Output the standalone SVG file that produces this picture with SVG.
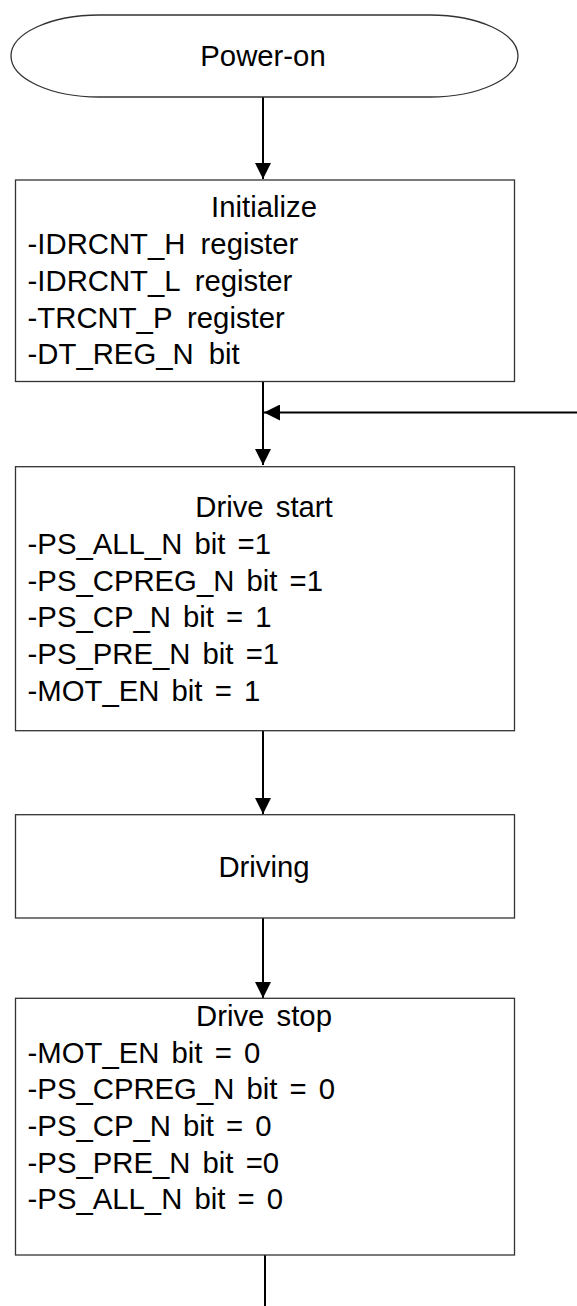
<svg xmlns="http://www.w3.org/2000/svg" width="577" height="1306" viewBox="0 0 577 1306">
  <style>
    .node { fill: #ffffff; stroke: #333333; stroke-width: 1.3; }
    .t { font-family: "Liberation Sans", Arial, sans-serif; font-size: 29.3px; fill: #000000; word-spacing: 4px; }
    .c { text-anchor: middle; }
    .conn { stroke: #000000; stroke-width: 2; fill: none; }
  </style>
  <defs>
    <marker id="arrow" markerWidth="16" markerHeight="16" viewBox="0 0 16 16" refX="16" refY="8" orient="auto" markerUnits="userSpaceOnUse">
      <path d="M0,0 L16,8 L0,16 Z" fill="#000000"/>
    </marker>
  </defs>
  <rect width="577" height="1306" fill="#ffffff"/>

  <g id="connectors">
    <line class="conn" x1="263" y1="97" x2="263" y2="179" marker-end="url(#arrow)"/>
    <line class="conn" x1="263" y1="382" x2="263" y2="465" marker-end="url(#arrow)"/>
    <line class="conn" x1="577" y1="412.5" x2="264" y2="412.5" marker-end="url(#arrow)"/>
    <line class="conn" x1="263" y1="731" x2="263" y2="814" marker-end="url(#arrow)"/>
    <line class="conn" x1="263" y1="918" x2="263" y2="998" marker-end="url(#arrow)"/>
    <line class="conn" x1="265" y1="1255" x2="265" y2="1306"/>
  </g>

  <g id="power-on">
    <rect class="node" x="11" y="15" width="507" height="82" rx="88" ry="41"/>
    <text class="t c" x="263" y="65.7">Power-on</text>
  </g>

  <g id="initialize">
    <rect class="node" x="15.5" y="180" width="499" height="201.5"/>
    <text class="t c" x="264" y="217">Initialize</text>
    <text class="t" x="27.6" y="254" xml:space="preserve" style="word-spacing:7px">-IDRCNT_H register</text>
    <text class="t" x="27.6" y="291" style="word-spacing:7px">-IDRCNT_L register</text>
    <text class="t" x="27.6" y="327.5" style="word-spacing:7px">-TRCNT_P register</text>
    <text class="t" x="27.6" y="364" style="word-spacing:7px">-DT_REG_N bit</text>
  </g>

  <g id="drive-start">
    <rect class="node" x="15.5" y="466.7" width="499" height="264"/>
    <text class="t c" x="264" y="517.3">Drive start</text>
    <text class="t" x="27.6" y="554.3">-PS_ALL_N bit =1</text>
    <text class="t" x="27.6" y="590.7">-PS_CPREG_N bit =1</text>
    <text class="t" x="27.6" y="627.3">-PS_CP_N bit = 1</text>
    <text class="t" x="27.6" y="664">-PS_PRE_N bit =1</text>
    <text class="t" x="27.6" y="700.7">-MOT_EN bit = 1</text>
  </g>

  <g id="driving">
    <rect class="node" x="15.5" y="814.7" width="499" height="103.3"/>
    <text class="t c" x="264" y="876.7">Driving</text>
  </g>

  <g id="drive-stop">
    <rect class="node" x="15.5" y="998.3" width="499" height="256.7"/>
    <text class="t c" x="264" y="1026">Drive stop</text>
    <text class="t" x="27.6" y="1062.7">-MOT_EN bit = 0</text>
    <text class="t" x="27.6" y="1099.3">-PS_CPREG_N bit = 0</text>
    <text class="t" x="27.6" y="1136">-PS_CP_N bit = 0</text>
    <text class="t" x="27.6" y="1172.7">-PS_PRE_N bit =0</text>
    <text class="t" x="27.6" y="1209.3">-PS_ALL_N bit = 0</text>
  </g>
</svg>
